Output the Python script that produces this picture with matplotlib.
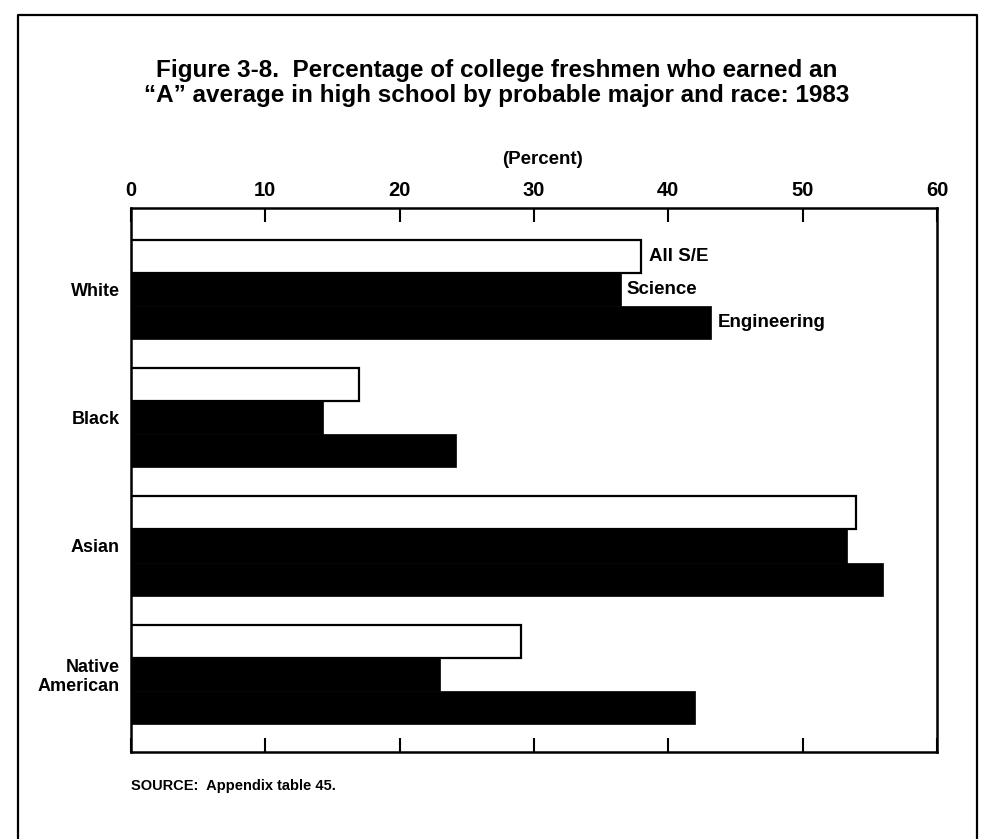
import numpy as np
import matplotlib
matplotlib.use('Agg')
import matplotlib.pyplot as plt
from matplotlib.lines import Line2D

plt.rcParams['font.family'] = ['Liberation Sans', 'DejaVu Sans']

races = ['White', 'Black', 'Asian', 'Native\nAmerican']
all_se = [38, 17, 54, 29]
science = [36.5, 14.3, 53.3, 23]
engineering = [43.2, 24.2, 56, 42]
ticks = [0, 10, 20, 30, 40, 50, 60]

W, H = 995, 839
fig = plt.figure(figsize=(W / 100, H / 100), dpi=100)
fig.patch.set_facecolor('white')

# outer frame of the scanned page
frame_x = [18 / W, 18 / W, 977 / W, 977 / W]
frame_y = [0.0, 1 - 15 / H, 1 - 15 / H, 0.0]
fig.add_artist(Line2D(frame_x, frame_y, color='black', lw=1.6))

ax = fig.add_axes([131 / W, 1 - 752 / H, (937 - 131) / W, (752 - 208) / H])

y = np.arange(len(races))
bh = 0.258
ax.barh(y - bh, all_se, height=bh, color='white', edgecolor='black', lw=1.6)
ax.barh(y, science, height=bh, color='black', edgecolor='black', lw=0.5)
ax.barh(y + bh, engineering, height=bh, color='black', edgecolor='black', lw=0.5)

ax.set_xlim(0, 60)
ax.set_ylim(3.605, -0.633)
ax.set_xticks(ticks)
ax.set_yticks(y)
ax.set_yticklabels(races, fontsize=13, fontweight='bold', linespacing=1.1)
ax.tick_params(axis='y', length=0, pad=8)
ax.tick_params(axis='x', direction='in', length=10, width=1.5, top=True, bottom=True,
               labeltop=True, labelbottom=False, labelsize=14.5, pad=6)
for lab in ax.get_xticklabels():
    lab.set_fontweight('bold')
for s in ax.spines.values():
    s.set_linewidth(1.8)

# series labels next to the first group
ax.text(all_se[0] + 0.55, 0 - bh, 'All S/E', va='center', ha='left', fontsize=13.5, fontweight='bold')
ax.text(science[0] + 0.4, 0, 'Science', va='center', ha='left', fontsize=13.5, fontweight='bold')
ax.text(engineering[0] + 0.5, 0 + bh, 'Engineering', va='center', ha='left', fontsize=13.5, fontweight='bold')

fig.text(543 / W, 1 - 160 / H, '(Percent)', ha='center', va='center', fontsize=13.5, fontweight='bold')
fig.text(497 / W, 1 - 83 / H,
         'Figure 3-8.  Percentage of college freshmen who earned an\n'
         '\u201cA\u201d average in high school by probable major and race: 1983',
         ha='center', va='center', fontsize=17.5, fontweight='bold', linespacing=1.12)
fig.text(131 / W, 1 - 786 / H, 'SOURCE:  Appendix table 45.', ha='left', va='center',
         fontsize=10.5, fontweight='bold')

fig.savefig('out.png', dpi=100)
